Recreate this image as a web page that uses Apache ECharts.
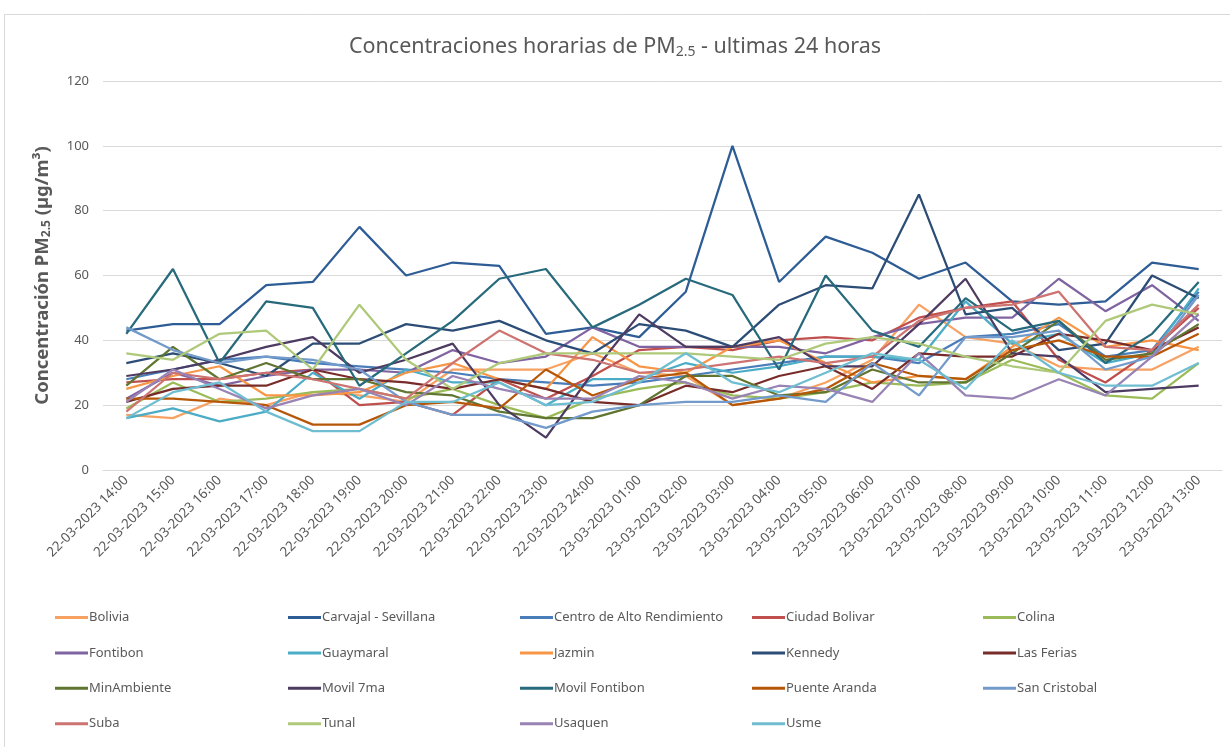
<!DOCTYPE html>
<html>
<head>
<meta charset="utf-8">
<script src="https://cdn.jsdelivr.net/npm/echarts@6/dist/echarts.min.js"></script>
<style>
  html, body { margin: 0; padding: 0; background: #fff; }
  #chart { width: 1230px; height: 747px; }
</style>
</head>
<body>
<div id="chart"></div>
<script>
// categorias (horas)
const horas = [
  '22-03-2023 14:00', '22-03-2023 15:00', '22-03-2023 16:00', '22-03-2023 17:00',
  '22-03-2023 18:00', '22-03-2023 19:00', '22-03-2023 20:00', '22-03-2023 21:00',
  '22-03-2023 22:00', '22-03-2023 23:00', '22-03-2023 24:00', '23-03-2023 01:00',
  '23-03-2023 02:00', '23-03-2023 03:00', '23-03-2023 04:00', '23-03-2023 05:00',
  '23-03-2023 06:00', '23-03-2023 07:00', '23-03-2023 08:00', '23-03-2023 09:00',
  '23-03-2023 10:00', '23-03-2023 11:00', '23-03-2023 12:00', '23-03-2023 13:00'
]

const bolivia = [17, 16, 22, 20, 24, 23, 21, 31, 31, 31, 36, 30, 29, 20, 22, 27, 34, 51, 41, 39, 32, 31, 31, 38]
const carvajal = [43, 45, 45, 57, 58, 75, 60, 64, 63, 42, 44, 41, 55, 100, 58, 72, 67, 59, 64, 52, 51, 52, 64, 62]
const centro = [28, 31, 34, 35, 33, 32, 31, 30, 28, 27, 26, 27, 29, 31, 33, 35, 35, 33, 41, 42, 45, 35, 37, 55]
const ciudadBolivar = [27, 28, 28, 30, 31, 20, 21, 17, 28, 22, 29, 37, 38, 37, 40, 41, 40, 47, 50, 52, 34, 27, 37, 50]
const colina = [19, 27, 21, 22, 24, 25, 22, 25, 20, 16, 22, 25, 27, 23, 22, 24, 27, 26, 27, 34, 30, 23, 22, 33]
const fontibon = [22, 30, 26, 29, 31, 31, 30, 37, 33, 35, 44, 38, 38, 38, 38, 36, 41, 45, 47, 47, 59, 49, 57, 46]
const guaymaral = [16, 19, 15, 18, 30, 22, 31, 27, 27, 20, 28, 28, 33, 30, 32, 35, 35, 34, 52, 39, 42, 33, 36, 56]
const jazmin = [25, 29, 32, 23, 23, 24, 30, 33, 28, 25, 41, 32, 30, 38, 40, 33, 27, 29, 28, 38, 47, 38, 40, 37]
const kennedy = [33, 36, 33, 29, 39, 39, 45, 43, 46, 40, 36, 45, 43, 38, 51, 57, 56, 85, 48, 50, 37, 39, 60, 53]
const lasFerias = [21, 25, 26, 26, 31, 28, 27, 25, 28, 25, 21, 20, 26, 24, 29, 32, 25, 36, 35, 35, 42, 40, 37, 44]
const minAmbiente = [26, 38, 28, 33, 28, 28, 24, 23, 18, 16, 16, 20, 29, 29, 23, 24, 31, 27, 27, 36, 46, 34, 36, 45]
const movil7ma = [29, 31, 34, 38, 41, 30, 34, 39, 20, 10, 30, 48, 38, 38, 41, 32, 32, 45, 59, 36, 35, 24, 25, 26]
const movilFontibon = [42, 62, 33, 52, 50, 26, 36, 46, 59, 62, 44, 51, 59, 54, 31, 60, 43, 38, 53, 43, 46, 33, 42, 58]
const puenteAranda = [22, 22, 21, 20, 14, 14, 20, 21, 19, 31, 23, 28, 30, 20, 22, 25, 33, 29, 28, 37, 40, 35, 35, 42]
const sanCristobal = [44, 37, 33, 35, 34, 31, 21, 17, 17, 13, 18, 20, 21, 21, 23, 21, 33, 23, 41, 41, 43, 31, 35, 54]
const suba = [18, 30, 28, 30, 28, 25, 22, 33, 43, 36, 34, 30, 31, 33, 35, 33, 35, 46, 50, 51, 55, 38, 37, 51]
const tunal = [36, 34, 42, 43, 31, 51, 34, 25, 33, 36, 36, 36, 36, 35, 34, 39, 41, 39, 35, 32, 30, 46, 51, 48]
const usaquen = [21, 31, 25, 19, 23, 25, 20, 29, 25, 22, 22, 29, 27, 22, 26, 25, 21, 36, 23, 22, 28, 23, 35, 48]
const usme = [16, 24, 27, 18, 12, 12, 21, 21, 27, 20, 21, 27, 36, 27, 24, 30, 36, 34, 25, 40, 30, 26, 26, 33]

const estaciones = [
  { name: 'Bolivia', data: bolivia, color: '#F7A263' },
  { name: 'Carvajal - Sevillana', data: carvajal, color: '#2E5D96' },
  { name: 'Centro de Alto Rendimiento', data: centro, color: '#4A7EBB' },
  { name: 'Ciudad Bolivar', data: ciudadBolivar, color: '#C0504D' },
  { name: 'Colina', data: colina, color: '#9BBB59' },
  { name: 'Fontibon', data: fontibon, color: '#8064A2' },
  { name: 'Guaymaral', data: guaymaral, color: '#4BACC6' },
  { name: 'Jazmin', data: jazmin, color: '#F79646' },
  { name: 'Kennedy', data: kennedy, color: '#2C4D75' },
  { name: 'Las Ferias', data: lasFerias, color: '#772C2A' },
  { name: 'MinAmbiente', data: minAmbiente, color: '#5F7530' },
  { name: 'Movil 7ma', data: movil7ma, color: '#4D3B62' },
  { name: 'Movil Fontibon', data: movilFontibon, color: '#276A7C' },
  { name: 'Puente Aranda', data: puenteAranda, color: '#B65708' },
  { name: 'San Cristobal', data: sanCristobal, color: '#729ACA' },
  { name: 'Suba', data: suba, color: '#CD7371' },
  { name: 'Tunal', data: tunal, color: '#AFC97A' },
  { name: 'Usaquen', data: usaquen, color: '#9983B5' },
  { name: 'Usme', data: usme, color: '#6FBDD1' }
]

const fuente = '"Noto Sans", sans-serif'
const gris = '#595959'

// la leyenda de Excel va por filas de 5 columnas
const colX = [50, 283, 515, 747, 978]
const legends = colX.map((x, c) => ({
  left: x,
  top: 606,
  orient: 'vertical',
  itemWidth: 33,
  itemHeight: 3,
  itemGap: 22.4,
  icon: 'rect',
  selectedMode: false,
  textStyle: { color: gris, fontSize: 13, fontFamily: fuente, padding: [0, 0, 0, -4] },
  data: estaciones.filter((s, i) => i % 5 === c).map(s => s.name)
}))

const myChart = echarts.init(document.getElementById('chart'))

const option = {
  animation: false,
  backgroundColor: '#fff',
  graphic: [{
    type: 'rect',
    shape: { x: 4.5, y: 14.5, width: 1240, height: 740 },
    style: { fill: 'none', stroke: '#d9d9d9', lineWidth: 1 },
    silent: true
  }],
  title: {
    text: 'Concentraciones horarias de PM{sub|2.5} - ultimas 24 horas',
    left: 'center',
    top: 30,
    textStyle: {
      fontSize: 21.5,
      fontWeight: 'normal',
      color: gris,
      fontFamily: fuente,
      rich: {
        sub: { fontSize: 14, color: gris, fontFamily: fuente, verticalAlign: 'bottom', padding: [10, 0, 0, 0] }
      }
    }
  },
  legend: legends,
  grid: {
    left: 103,
    right: 8,
    top: 81,
    bottom: 277
  },
  xAxis: {
    type: 'category',
    boundaryGap: true,
    data: horas,
    axisLine: { lineStyle: { color: '#d9d9d9' } },
    axisTick: { show: false },
    axisLabel: {
      rotate: 45,
      color: gris,
      fontSize: 13.5,
      fontFamily: fuente,
      margin: 8,
      interval: 0
    }
  },
  yAxis: {
    type: 'value',
    min: 0,
    max: 120,
    interval: 20,
    name: 'Concentración PM{sub|2.5} (µg/m³)',
    nameLocation: 'middle',
    nameGap: 50,
    nameRotate: 90,
    nameTextStyle: {
      color: gris,
      fontSize: 18.5,
      fontWeight: 'bold',
      fontFamily: fuente,
      rich: {
        sub: { fontSize: 12, fontWeight: 'bold', color: gris, fontFamily: fuente, padding: [8, 0, 0, 0] }
      }
    },
    axisLine: { show: false },
    axisTick: { show: false },
    axisLabel: { color: gris, fontSize: 13, fontFamily: fuente, margin: 14 },
    splitLine: { lineStyle: { color: '#d9d9d9', width: 1 } }
  },
  series: estaciones.map(s => ({
    name: s.name,
    type: 'line',
    data: s.data,
    symbol: 'none',
    showSymbol: false,
    color: s.color,
    lineStyle: { width: 2.25, color: s.color },
    itemStyle: { color: s.color },
    emphasis: { disabled: true }
  }))
}

myChart.setOption(option)
</script>
</body>
</html>
